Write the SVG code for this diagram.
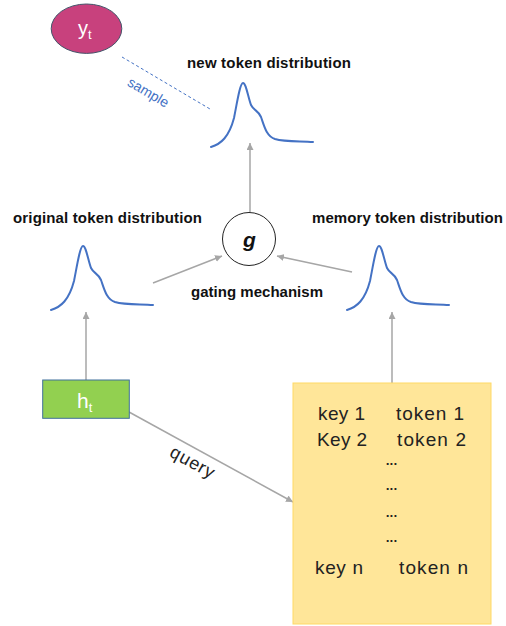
<svg xmlns="http://www.w3.org/2000/svg" width="506" height="626" viewBox="0 0 506 626">
  <defs>
    <style>
      .label { font-family: "Liberation Sans", Arial, sans-serif; font-weight: bold; font-size: 15px; fill: #111; text-anchor: middle; }
      .curve { fill: none; stroke: #4472c4; stroke-width: 2; stroke-linecap: round; stroke-linejoin: round; }
      .conn { fill: none; stroke: #a6a6a6; stroke-width: 1.5; marker-end: url(#arrow); }
      .mem { font-family: "Liberation Sans", Arial, sans-serif; font-size: 19px; fill: #222; }
      .sym { font-family: "Liberation Sans", Arial, sans-serif; fill: #fff; }
    </style>
    <marker id="arrow" viewBox="0 0 10 10" refX="10" refY="5" markerWidth="7" markerHeight="7" markerUnits="userSpaceOnUse" orient="auto">
      <path d="M0,0 L10,5 L0,10 Z" fill="#a6a6a6"/>
    </marker>
    <!-- peaked distribution, origin at the peak -->
    <path id="dist" class="curve" d="M-32,64 C-22,61 -14,54 -9,35 C-6,20 -3,0 0,0 C3,0 5,14 8,22 C11,28 15,27 18,34 C21,42 23,53 32,56 C42,59 58,58 70,59"/>
  </defs>

  <rect width="506" height="626" fill="#fff"/>

  <!-- connectors -->
  <g id="connectors">
    <line class="conn" x1="250" y1="212" x2="250" y2="143"/>
    <line class="conn" x1="153" y1="283" x2="222" y2="256"/>
    <line class="conn" x1="352" y1="272" x2="277" y2="256"/>
    <line class="conn" x1="86" y1="380" x2="86" y2="312"/>
    <line class="conn" x1="392" y1="383" x2="392" y2="312"/>
    <line class="conn" x1="129" y1="412" x2="293" y2="502"/>
    <text x="192" y="468" transform="rotate(28.8 192 463)" font-family="'Liberation Sans', Arial, sans-serif" font-size="18" fill="#222" text-anchor="middle" textLength="48">query</text>
    <line x1="122" y1="57" x2="210" y2="109" stroke="#4472c4" stroke-width="1" stroke-dasharray="3,2.5"/>
    <text x="148" y="97" transform="rotate(30.5 148 93)" font-family="'Liberation Sans', Arial, sans-serif" font-size="14" fill="#4472c4" text-anchor="middle">sample</text>
  </g>

  <!-- sampled token -->
  <g id="yt">
    <ellipse cx="86.5" cy="28.7" rx="35.3" ry="24.7" fill="#c8417d" stroke="#44546a" stroke-width="1"/>
    <text class="sym" x="78" y="35" font-size="20">y<tspan font-size="13" dy="4">t</tspan></text>
  </g>

  <!-- new token distribution -->
  <g id="new-dist">
    <text class="label" x="269" y="68" textLength="164">new token distribution</text>
    <use href="#dist" x="243" y="83"/>
  </g>

  <!-- original token distribution -->
  <g id="orig-dist">
    <text class="label" x="107.5" y="223" textLength="189">original token distribution</text>
    <use href="#dist" x="83" y="246"/>
  </g>

  <!-- memory token distribution -->
  <g id="mem-dist">
    <text class="label" x="407.5" y="223" textLength="191">memory token distribution</text>
    <use href="#dist" x="379" y="246"/>
  </g>

  <!-- gating mechanism -->
  <g id="gate">
    <circle cx="249" cy="239" r="26.5" fill="#fff" stroke="#222" stroke-width="1"/>
    <text x="249.5" y="247" font-family="'Liberation Sans', Arial, sans-serif" font-weight="bold" font-style="italic" font-size="21" fill="#111" text-anchor="middle">g</text>
    <text class="label" x="257" y="297" textLength="132">gating mechanism</text>
  </g>

  <!-- hidden state -->
  <g id="ht">
    <rect x="42.7" y="380" width="86.6" height="38.3" fill="#92d050" stroke="#41719c" stroke-width="1"/>
    <text class="sym" x="77" y="408" font-size="21">h<tspan font-size="13" dy="3.5">t</tspan></text>
  </g>

  <!-- key/token memory -->
  <g id="memory">
    <rect x="293" y="383" width="198" height="241" fill="#ffe699" stroke="#ffd966" stroke-width="1"/>
    <text class="mem" x="318" y="420" textLength="47">key 1</text>
    <text class="mem" x="396" y="420" textLength="68">token 1</text>
    <text class="mem" x="317" y="446" textLength="50">Key 2</text>
    <text class="mem" x="397" y="446" textLength="69">token 2</text>
    <text class="mem" x="385" y="465" textLength="13">...</text>
    <text class="mem" x="385" y="490" textLength="13">...</text>
    <text class="mem" x="385" y="517" textLength="13">...</text>
    <text class="mem" x="385" y="542" textLength="13">...</text>
    <text class="mem" x="315" y="574" textLength="48">key n</text>
    <text class="mem" x="399" y="574" textLength="69">token n</text>
  </g>
</svg>
